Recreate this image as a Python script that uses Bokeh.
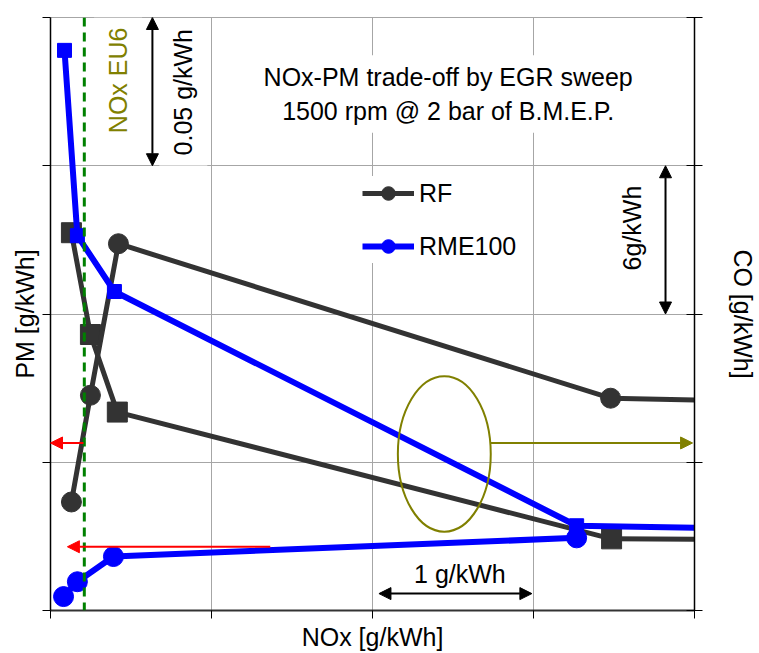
import math
from bokeh.plotting import figure
from bokeh.models import (Range1d, LinearAxis, FixedTicker, Label, Arrow, NormalHead,
                          Span, Legend, LegendItem)
from bokeh.embed import file_html
from bokeh.resources import INLINE

# ---------------- data ----------------
x_ticks = [0, 1, 2, 3, 4]
pm_ticks = [0, 0.05, 0.10, 0.15, 0.20]
co_ticks = [0, 6, 12, 18, 24]

# PM (left axis) - circles
nox_rf_pm = [0.130, 0.248, 0.422, 3.479, 4.5]
pm_rf = [0.0366, 0.0726, 0.1237, 0.0716, 0.0704]
nox_rme_pm = [0.081, 0.167, 0.391, 3.268]
pm_rme = [0.0047, 0.0097, 0.0182, 0.0245]

# CO (right axis) - squares
nox_rf_co = [0.130, 0.248, 0.415, 3.485, 4.5]
co_rf = [15.29, 11.17, 8.03, 2.90, 2.86]
nox_rme_co = [0.087, 0.167, 0.397, 3.268, 4.5]
co_rme = [22.67, 15.17, 12.91, 3.43, 3.30]

nox_eu6 = 0.21

FONT = "Liberation Sans"
FS = "25px"
DARK = "#333333"
BLUE = "#0000ff"
OLIVE = "#808000"

p = figure(width=759, height=653, x_range=Range1d(0, 4), y_range=Range1d(0, 0.2),
           output_backend="svg", toolbar_location=None,
           min_border_left=50, min_border_right=64, min_border_top=17, min_border_bottom=41)
p.extra_y_ranges = {"co": Range1d(0, 24)}

p.xaxis.ticker = FixedTicker(ticks=x_ticks)
p.yaxis.ticker = FixedTicker(ticks=pm_ticks)
p.xaxis.axis_label = "NOx [g/kWh]"
p.yaxis.axis_label = "PM [g/kWh]"

co_axis = LinearAxis(y_range_name="co", ticker=FixedTicker(ticks=co_ticks),
                     axis_label="CO [g/kWh]")
co_axis.axis_label_orientation = "vertical"
p.add_layout(co_axis, "right")

for ax in [p.xaxis[0], p.yaxis[0], co_axis]:
    ax.major_label_text_font_size = "1px"
    ax.major_label_text_color = None
    ax.major_label_standoff = 0
    ax.minor_tick_line_color = None
    ax.axis_label_text_font = FONT
    ax.axis_label_text_font_size = FS
    ax.axis_label_text_font_style = "normal"
    ax.axis_label_text_color = "black"
    ax.major_tick_line_color = "black"
    ax.axis_line_color = "black"
    ax.axis_line_width = 1.5

p.xaxis.major_tick_out = 8
p.xaxis.major_tick_in = 0
p.xaxis.axis_line_color = "#333333"
p.xaxis.axis_line_width = 2
p.xaxis.axis_label_standoff = 4
p.yaxis[0].major_tick_out = 8
p.yaxis[0].major_tick_in = 0
p.yaxis[0].axis_label_standoff = 4
co_axis.major_tick_out = 8
co_axis.major_tick_in = 8
co_axis.axis_label_standoff = 26

p.xgrid.grid_line_color = "#a6a6a6"
p.ygrid.grid_line_color = "#a6a6a6"
p.outline_line_color = "#a6a6a6"
p.background_fill_color = "white"

# ---------------- series ----------------
r1 = p.line(nox_rf_co, co_rf, y_range_name="co", line_color=DARK, line_width=5)
p.scatter(nox_rf_co, co_rf, y_range_name="co", marker="square", size=20, color=DARK)
r2 = p.line(nox_rf_pm, pm_rf, line_color=DARK, line_width=5)
r2s = p.scatter(nox_rf_pm, pm_rf, marker="circle", size=20, color=DARK)
r3 = p.line(nox_rme_co, co_rme, y_range_name="co", line_color=BLUE, line_width=6)
p.scatter(nox_rme_co, co_rme, y_range_name="co", marker="square", size=14, color=BLUE)
r4 = p.line(nox_rme_pm, pm_rme, line_color=BLUE, line_width=6)
r4s = p.scatter(nox_rme_pm, pm_rme, marker="circle", size=20, color=BLUE)

legend = Legend(items=[LegendItem(label="RF", renderers=[r2, r2s]),
                       LegendItem(label="RME100", renderers=[r4, r4s])],
                location=(312, 347), glyph_width=52, glyph_height=34, label_height=34,
                spacing=19, padding=4, margin=0, label_standoff=5,
                label_text_font=FONT, label_text_font_size=FS, label_text_color="black",
                border_line_color=None, background_fill_color="white", background_fill_alpha=1)
p.add_layout(legend)

# ---------------- annotations ----------------
p.add_layout(Span(location=nox_eu6, dimension="height", line_color="#008000",
                  line_width=3, line_dash="9 6"))

# ellipse marking CO curves
ell_x = [2.446]
ell_y = [0.0528]
ell_w = [0.577]
ell_h = [0.0524]
p.ellipse(ell_x, ell_y, width=ell_w, height=ell_h, fill_color=None,
          line_color=OLIVE, line_width=2)
p.add_layout(Arrow(x_start=2.735, y_start=0.0565, x_end=3.988, y_end=0.0565,
                   line_color=OLIVE, line_width=2,
                   end=NormalHead(size=12, fill_color=OLIVE, line_color=OLIVE)))

# red arrows toward PM axis
p.add_layout(Arrow(x_start=0.205, y_start=0.0565, x_end=0.0, y_end=0.0565,
                   line_color="red", line_width=2,
                   end=NormalHead(size=12, fill_color="red", line_color="red")))
p.add_layout(Arrow(x_start=1.365, y_start=0.0215, x_end=0.105, y_end=0.0215,
                   line_color="red", line_width=2,
                   end=NormalHead(size=12, fill_color="red", line_color="red")))

# scale arrows
def dbl(**kw):
    return Arrow(line_color="black", line_width=2,
                 start=NormalHead(size=12, fill_color="black", line_color="black"),
                 end=NormalHead(size=12, fill_color="black", line_color="black"), **kw)

p.add_layout(dbl(x_start=0.633, y_start=0.2, x_end=0.633, y_end=0.15))
p.add_layout(dbl(x_start=3.82, y_start=18, x_end=3.82, y_end=12, y_range_name="co"))
p.add_layout(dbl(x_start=2.04, y_start=0.0057, x_end=2.99, y_end=0.0057))

def lab(text, x, y, color="black", angle=0.0, pad=6, bg="white"):
    p.add_layout(Label(x=x, y=y, text=text, angle=angle, text_align="center",
                       text_baseline="middle", text_font=FONT, text_font_size=FS,
                       text_color=color, background_fill_color=bg,
                       padding=pad))

lab("NOx-PM trade-off by EGR sweep\n1500 rpm @ 2 bar of B.M.E.P.", 2.47, 0.1742, pad=8)
lab("NOx EU6", 0.42, 0.1788, color=OLIVE, angle=1.5708, pad=10)
lab("0.05 g/kWh", 0.825, 0.1748, angle=1.5708, pad=10)
lab("6g/kWh", 3.609, 0.129, angle=1.5708, pad=10)
lab("1 g/kWh", 2.543, 0.0124, pad=4)

open("out.html", "w").write(file_html(p, INLINE))
